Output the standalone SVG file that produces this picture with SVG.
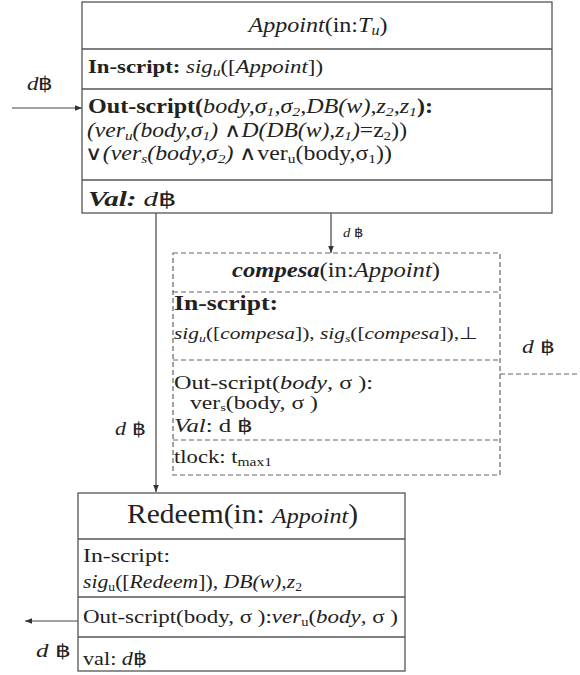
<svg xmlns="http://www.w3.org/2000/svg" width="580" height="675" viewBox="0 0 580 675">
  <defs>
    <marker id="arrow" viewBox="0 0 10 10" refX="10" refY="5" markerWidth="7" markerHeight="7" markerUnits="userSpaceOnUse" orient="auto">
      <path d="M0,1 L10,5 L0,9 z" fill="#333"/>
    </marker>
  </defs>

  <!-- connectors -->
  <g id="connectors" stroke="#444" stroke-width="1.2" fill="none">
    <line x1="12" y1="108" x2="82" y2="108" marker-end="url(#arrow)"/>
    <line x1="156" y1="213" x2="156" y2="492" marker-end="url(#arrow)"/>
    <line x1="331" y1="213" x2="331" y2="253" marker-end="url(#arrow)"/>
    <line x1="500" y1="374" x2="580" y2="374" stroke="#666" stroke-dasharray="5 3"/>
    <line x1="78" y1="621" x2="25" y2="621" marker-end="url(#arrow)"/>
  </g>
  <g id="connector-labels" fill="#222">
    <text font-family="Liberation Serif, serif" x="27" y="90" font-size="19" textLength="26" lengthAdjust="spacingAndGlyphs"><tspan font-style="italic">d</tspan>฿</text>
    <text font-family="Liberation Serif, serif" x="343" y="237" font-size="13" textLength="20" lengthAdjust="spacingAndGlyphs"><tspan font-style="italic">d</tspan> ฿</text>
    <text font-family="Liberation Serif, serif" x="522" y="353" font-size="18" textLength="32" lengthAdjust="spacingAndGlyphs"><tspan font-style="italic">d</tspan>  ฿</text>
    <text font-family="Liberation Serif, serif" x="115" y="435" font-size="18" textLength="30" lengthAdjust="spacingAndGlyphs"><tspan font-style="italic">d</tspan>  ฿</text>
    <text font-family="Liberation Serif, serif" x="36" y="657" font-size="18" textLength="34" lengthAdjust="spacingAndGlyphs"><tspan font-style="italic">d</tspan>  ฿</text>
  </g>

  <!-- Appoint transaction -->
  <g id="appoint">
    <g fill="#fff" stroke="#555" stroke-width="1.3">
      <rect x="82" y="2" width="470" height="211"/>
      <line x1="82" y1="49" x2="552" y2="49"/>
      <line x1="82" y1="89" x2="552" y2="89"/>
      <line x1="82" y1="180" x2="552" y2="180"/>
    </g>
    <g fill="#222">
      <text font-family="Liberation Serif, serif" x="318" y="32" font-size="21" text-anchor="middle" textLength="139" lengthAdjust="spacingAndGlyphs"><tspan font-style="italic">Appoint</tspan>(in:<tspan font-style="italic">T</tspan><tspan font-style="italic" font-size="14" dy="3">u</tspan><tspan dy="-3">)</tspan></text>
      <text font-family="Liberation Serif, serif" x="88" y="73" font-size="19" textLength="235" lengthAdjust="spacingAndGlyphs"><tspan font-weight="bold">In-script: </tspan><tspan font-style="italic">sig</tspan><tspan font-style="italic" font-size="13" dy="3">u</tspan><tspan dy="-3">([</tspan><tspan font-style="italic">Appoint</tspan>])</text>
      <text font-family="Liberation Serif, serif" x="88" y="113" font-size="20" textLength="345" lengthAdjust="spacingAndGlyphs"><tspan font-weight="bold">Out-script(</tspan><tspan font-style="italic">body,σ</tspan><tspan font-style="italic" font-size="13" dy="3">1</tspan><tspan font-style="italic" dy="-3">,σ</tspan><tspan font-style="italic" font-size="13" dy="3">2</tspan><tspan font-style="italic" dy="-3">,DB(w),z</tspan><tspan font-style="italic" font-size="13" dy="3">2</tspan><tspan font-style="italic" dy="-3">,z</tspan><tspan font-style="italic" font-size="13" dy="3">1</tspan><tspan font-weight="bold" dy="-3">):</tspan></text>
      <text font-family="Liberation Serif, serif" x="87" y="137" font-size="20" textLength="320" lengthAdjust="spacingAndGlyphs"><tspan font-style="italic">(ver</tspan><tspan font-style="italic" font-size="13" dy="3">u</tspan><tspan font-style="italic" dy="-3">(body,σ</tspan><tspan font-style="italic" font-size="13" dy="3">1</tspan><tspan font-style="italic" dy="-3">) </tspan>∧<tspan font-style="italic">D(DB(w),z</tspan><tspan font-style="italic" font-size="13" dy="3">1</tspan><tspan font-style="italic" dy="-3">)</tspan>=z<tspan font-size="13" dy="3">2</tspan><tspan dy="-3">))</tspan></text>
      <text font-family="Liberation Serif, serif" x="85" y="160" font-size="20" textLength="307" lengthAdjust="spacingAndGlyphs">∨<tspan font-style="italic">(ver</tspan><tspan font-style="italic" font-size="13" dy="3">s</tspan><tspan font-style="italic" dy="-3">(body,σ</tspan><tspan font-style="italic" font-size="13" dy="3">2</tspan><tspan font-style="italic" dy="-3">) </tspan>∧ver<tspan font-size="13" dy="3">u</tspan><tspan dy="-3">(body,σ</tspan><tspan font-size="13" dy="3">1</tspan><tspan dy="-3">))</tspan></text>
      <text font-family="Liberation Serif, serif" x="88" y="206" font-size="20" textLength="89" lengthAdjust="spacingAndGlyphs"><tspan font-weight="bold" font-style="italic">Val:</tspan>  <tspan font-style="italic">d</tspan>฿</text>
    </g>
  </g>

  <!-- compesa transaction -->
  <g id="compesa">
    <g fill="#fff" stroke="#666" stroke-width="1.2" stroke-dasharray="5 3">
      <rect x="173" y="253" width="327" height="222"/>
      <line x1="173" y1="292" x2="500" y2="292"/>
      <line x1="173" y1="360" x2="500" y2="360"/>
      <line x1="173" y1="440" x2="500" y2="440"/>
    </g>
    <g fill="#222">
      <text font-family="Liberation Serif, serif" x="336" y="277" font-size="20" text-anchor="middle" textLength="208" lengthAdjust="spacingAndGlyphs"><tspan font-weight="bold" font-style="italic">compesa</tspan>(in:<tspan font-style="italic">Appoint</tspan>)</text>
      <text font-family="Liberation Serif, serif" x="174" y="310" font-size="20" font-weight="bold" textLength="104" lengthAdjust="spacingAndGlyphs">In-script:</text>
      <text font-family="Liberation Serif, serif" x="174" y="339" font-size="17" textLength="304" lengthAdjust="spacingAndGlyphs"><tspan font-style="italic">sig</tspan><tspan font-style="italic" font-size="11" dy="3">u</tspan><tspan dy="-3">([</tspan><tspan font-style="italic">compesa</tspan>]),  <tspan font-style="italic">sig</tspan><tspan font-style="italic" font-size="11" dy="3">s</tspan><tspan dy="-3">([</tspan><tspan font-style="italic">compesa</tspan>]),⊥</text>
      <text font-family="Liberation Serif, serif" x="174" y="389" font-size="18" textLength="199" lengthAdjust="spacingAndGlyphs">Out-script(<tspan font-style="italic">body</tspan>, σ ):</text>
      <text font-family="Liberation Serif, serif" x="190" y="409" font-size="18" textLength="128" lengthAdjust="spacingAndGlyphs">ver<tspan font-size="11" dy="2">s</tspan><tspan dy="-2">(body, σ )</tspan></text>
      <text font-family="Liberation Serif, serif" x="174" y="432" font-size="19" textLength="79" lengthAdjust="spacingAndGlyphs"><tspan font-style="italic">Val</tspan>: d  ฿</text>
      <text font-family="Liberation Serif, serif" x="174" y="463" font-size="19" textLength="98" lengthAdjust="spacingAndGlyphs">tlock: t<tspan font-size="13" dy="3">max1</tspan></text>
    </g>
  </g>

  <!-- Redeem transaction -->
  <g id="redeem">
    <g fill="#fff" stroke="#555" stroke-width="1.3">
      <rect x="78" y="493" width="327" height="178"/>
      <line x1="78" y1="539" x2="405" y2="539"/>
      <line x1="78" y1="597" x2="405" y2="597"/>
      <line x1="78" y1="637" x2="405" y2="637"/>
    </g>
    <g fill="#222">
      <text font-family="Liberation Serif, serif" x="242.5" y="523" font-size="27" text-anchor="middle" textLength="231" lengthAdjust="spacingAndGlyphs">Redeem(in: <tspan font-style="italic" font-size="22">Appoint</tspan>)</text>
      <text font-family="Liberation Serif, serif" x="83" y="562" font-size="19" textLength="87" lengthAdjust="spacingAndGlyphs">In-script:</text>
      <text font-family="Liberation Serif, serif" x="83" y="588" font-size="19" textLength="219" lengthAdjust="spacingAndGlyphs"><tspan font-style="italic">sig</tspan><tspan font-size="12" dy="3">u</tspan><tspan dy="-3">([</tspan><tspan font-style="italic">Redeem</tspan>]), <tspan font-style="italic">DB(w),z</tspan><tspan font-size="12" dy="3">2</tspan></text>
      <text font-family="Liberation Serif, serif" x="83" y="623" font-size="19" textLength="315" lengthAdjust="spacingAndGlyphs">Out-script(body, σ ):<tspan font-style="italic">ver</tspan><tspan font-size="12" dy="3">u</tspan><tspan dy="-3">(</tspan><tspan font-style="italic">body</tspan>, σ )</text>
      <text font-family="Liberation Serif, serif" x="83" y="665" font-size="19" textLength="64" lengthAdjust="spacingAndGlyphs">val: <tspan font-style="italic">d</tspan>฿</text>
    </g>
  </g>
</svg>
